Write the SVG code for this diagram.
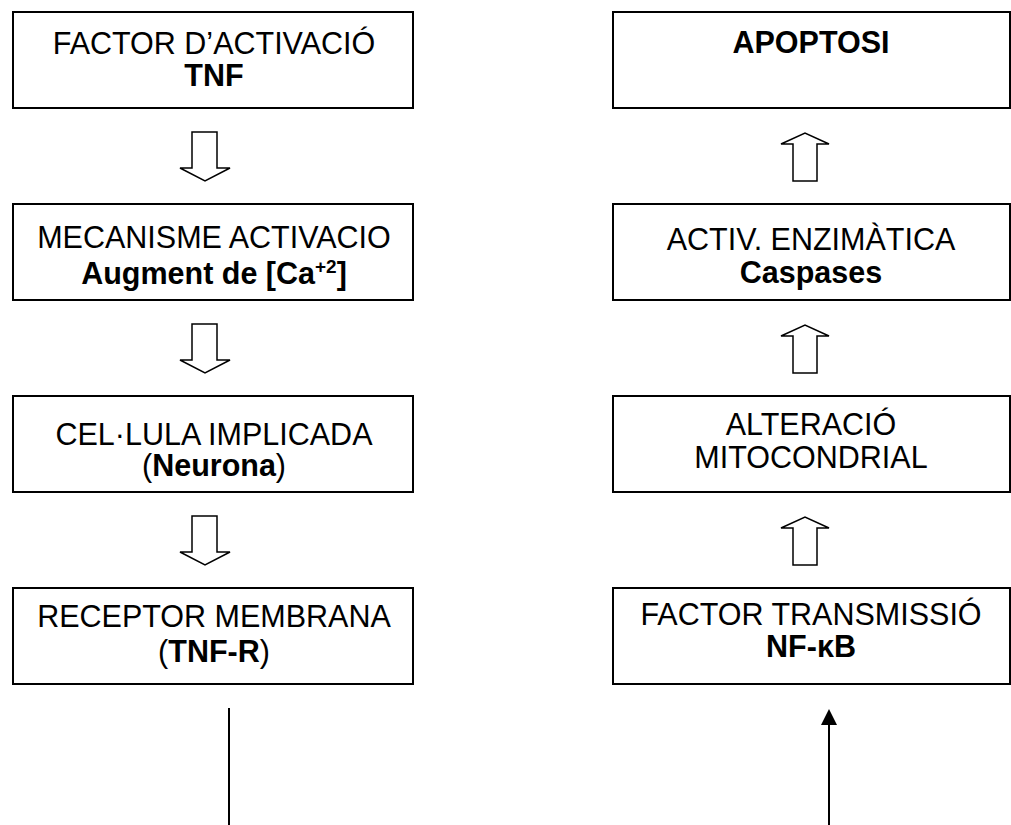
<svg xmlns="http://www.w3.org/2000/svg" width="1011" height="825" viewBox="0 0 1011 825">
<style>
.box{fill:#fff;stroke:#000;stroke-width:2}
.t{font-family:"Liberation Sans",Arial,sans-serif;font-size:30.5px;fill:#000;text-anchor:middle}
.b{font-weight:bold}
.arr{fill:#fff;stroke:#000;stroke-width:1.5;stroke-linejoin:miter}
.ln{stroke:#000;stroke-width:2;fill:none}
</style>
<defs>
<marker id="ah" markerWidth="16" markerHeight="16" viewBox="0 0 16 16" refX="0" refY="8" orient="auto" markerUnits="userSpaceOnUse">
<path d="M0,0 L16,8 L0,16 Z" fill="#000"/>
</marker>
</defs>
<rect width="1011" height="825" fill="#fff"/>
<g id="n1"><rect class="box" x="13" y="12" width="400" height="96"/>
<text class="t" x="214" y="54">FACTOR D’ACTIVACIÓ</text>
<text class="t b" x="214" y="86">TNF</text></g>
<g id="n2"><rect class="box" x="13" y="204" width="400" height="96"/>
<text class="t" x="214" y="248">MECANISME ACTIVACIO</text>
<text class="t b" x="214" y="284">Augment de [Ca<tspan font-size="19" dy="-11">+2</tspan><tspan dy="11">]</tspan></text></g>
<g id="n3"><rect class="box" x="13" y="396" width="400" height="96"/>
<text class="t" x="214" y="445">CEL·LULA IMPLICADA</text>
<text class="t" x="214" y="476">(<tspan class="b">Neurona</tspan>)</text></g>
<g id="n4"><rect class="box" x="13" y="588" width="400" height="96"/>
<text class="t" x="214" y="627">RECEPTOR MEMBRANA</text>
<text class="t" x="214" y="662">(<tspan class="b">TNF-R</tspan>)</text></g>
<g id="n5"><rect class="box" x="613" y="12" width="397" height="96"/>
<text class="t b" x="811" y="53">APOPTOSI</text></g>
<g id="n6"><rect class="box" x="613" y="204" width="397" height="96"/>
<text class="t" x="811" y="250">ACTIV. ENZIMÀTICA</text>
<text class="t b" x="811" y="283">Caspases</text></g>
<g id="n7"><rect class="box" x="613" y="396" width="397" height="96"/>
<text class="t" x="811" y="435">ALTERACIÓ</text>
<text class="t" x="811" y="468">MITOCONDRIAL</text></g>
<g id="n8"><rect class="box" x="613" y="588" width="397" height="96"/>
<text class="t" x="811" y="625">FACTOR TRANSMISSIÓ</text>
<text class="t b" x="811" y="657">NF-κB</text></g>
<g id="connectors">
<path class="arr" d="M192,132 H217 V168 H230 L205,181 L180,168 H192 Z"/>
<path class="arr" d="M192,324 H217 V360 H230 L205,373 L180,360 H192 Z"/>
<path class="arr" d="M192,516 H217 V552 H230 L205,565 L180,552 H192 Z"/>
<path class="arr" d="M793,181 H817 V144 H829 L805,133 L781,144 H793 Z"/>
<path class="arr" d="M793,373 H817 V336 H829 L805,325 L781,336 H793 Z"/>
<path class="arr" d="M793,565 H817 V528 H829 L805,517 L781,528 H793 Z"/>
<line class="ln" x1="229" y1="708" x2="229" y2="825"/>
<line class="ln" x1="829" y1="825" x2="829" y2="725" marker-end="url(#ah)"/>
</g>
</svg>
